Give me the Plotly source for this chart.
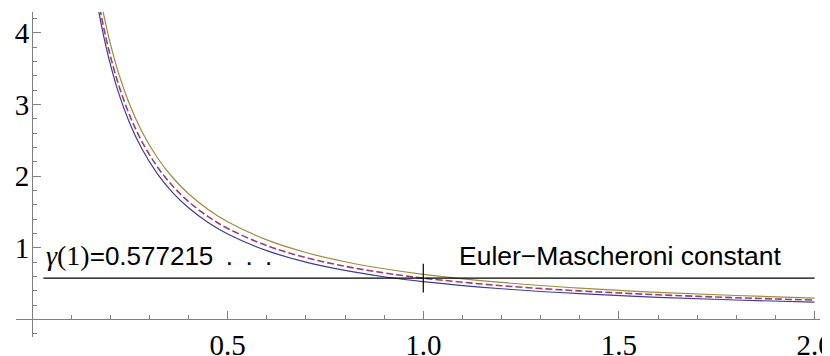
import plotly.graph_objects as go

# sample abscissae
a_vals = [0.16, 0.17, 0.18, 0.19, 0.20, 0.22, 0.25, 0.28, 0.32, 0.36, 0.40, 0.45,
          0.50, 0.60, 0.70, 0.80, 0.90, 1.00, 1.20, 1.40, 1.60, 1.80, 2.00]

# lower (blue) curve
blue_vals = [4.633, 4.315, 4.035, 3.786, 3.563, 3.182, 2.734, 2.388, 2.035, 1.767, 1.558, 1.353,
             1.193, 0.960, 0.800, 0.684, 0.596, 0.527, 0.428, 0.359, 0.309, 0.271, 0.241]

# middle (dashed) curve
mid_vals = [4.758, 4.438, 4.155, 3.904, 3.680, 3.295, 2.841, 2.491, 2.132, 1.859, 1.645, 1.435,
            1.270, 1.030, 0.863, 0.742, 0.650, 0.577, 0.471, 0.398, 0.344, 0.303, 0.270]

# upper (gold) curve
gold_vals = [4.952, 4.626, 4.337, 4.081, 3.851, 3.458, 2.991, 2.630, 2.260, 1.977, 1.754, 1.535,
             1.363, 1.110, 0.934, 0.805, 0.707, 0.629, 0.516, 0.437, 0.378, 0.334, 0.298]

gamma_value = 0.577215
gamma_line_x = [0.029, 2.0]
marker_x = 1.0
marker_y = [0.377, 0.777]

x_tick_vals = [0.5, 1.0, 1.5, 2.0]
x_tick_text = ["0.5", "1.0", "1.5", "2.0"]
y_tick_vals = [1, 2, 3, 4]
y_tick_text = ["1", "2", "3", "4"]

label_gamma = ('<span style="font-family:Liberation Serif;font-size:28px"><i>γ</i>(1)</span>'
               '=0.577215 \u2009.\u2009 .\u2009 .')
label_euler = "Euler\u2212Mascheroni constant"

x_range = [-0.041, 2.014]
y_range = [-0.245, 4.29]

fig = go.Figure()
fig.add_trace(go.Scatter(x=a_vals, y=blue_vals, mode="lines",
                         line=dict(color="#3d3d9c", width=1.2, shape="spline")))
fig.add_trace(go.Scatter(x=a_vals, y=mid_vals, mode="lines",
                         line=dict(color="#a03d74", width=1.6, shape="spline", dash="7px,3px")))
fig.add_trace(go.Scatter(x=a_vals, y=gold_vals, mode="lines",
                         line=dict(color="#9c8c3d", width=1.2, shape="spline")))

fig.add_trace(go.Scatter(x=gamma_line_x, y=[gamma_value, gamma_value], mode="lines",
                         line=dict(color="black", width=1.2)))
fig.add_trace(go.Scatter(x=[marker_x, marker_x], y=marker_y, mode="lines",
                         line=dict(color="black", width=1.2)))

fig.add_annotation(x=0.030, y=0.89, xref="x", yref="y", text=label_gamma,
                   showarrow=False, xanchor="left", yanchor="middle",
                   font=dict(family="Liberation Sans", size=26, color="black"))
fig.add_annotation(x=1.086, y=0.885, xref="x", yref="y", text=label_euler,
                   showarrow=False, xanchor="left", yanchor="middle",
                   font=dict(family="Liberation Sans", size=26.5, color="black"))

x_pos = (0 - y_range[0]) / (y_range[1] - y_range[0])
y_pos = (0 - x_range[0]) / (x_range[1] - x_range[0])

axis_col = "#808080"
tick_font = dict(family="Liberation Serif", size=29, color="black")
# page body adds an 8px offset, so the figure is 8px smaller and margins shifted
fig.update_layout(
    template="none",
    width=822, height=348,
    margin=dict(l=8, r=10, t=4, b=19, autoexpand=False),
    paper_bgcolor="white", plot_bgcolor="white",
    showlegend=False,
    xaxis=dict(range=x_range, anchor="free", position=x_pos, automargin=False,
               showgrid=False, zeroline=False, showline=True, linecolor=axis_col, linewidth=1,
               tickmode="array", tickvals=x_tick_vals, ticktext=x_tick_text,
               ticks="inside", ticklen=8, tickcolor=axis_col, tickwidth=1,
               ticklabelstandoff=0, ticklabeloverflow="allow",
               tickfont=tick_font,
               minor=dict(tickmode="linear", tick0=0, dtick=0.1, ticks="inside",
                          ticklen=4, tickcolor=axis_col, tickwidth=1, showgrid=False)),
    yaxis=dict(range=y_range, anchor="free", position=y_pos, automargin=False,
               showgrid=False, zeroline=False, showline=True, linecolor=axis_col, linewidth=1,
               tickmode="array", tickvals=y_tick_vals, ticktext=y_tick_text,
               ticks="inside", ticklen=8, tickcolor=axis_col, tickwidth=1,
               ticklabelstandoff=-3, ticklabeloverflow="allow",
               tickfont=tick_font,
               minor=dict(tickmode="linear", tick0=0, dtick=0.2, ticks="inside",
                          ticklen=4, tickcolor=axis_col, tickwidth=1, showgrid=False)),
)

fig.write_html("out.html")
